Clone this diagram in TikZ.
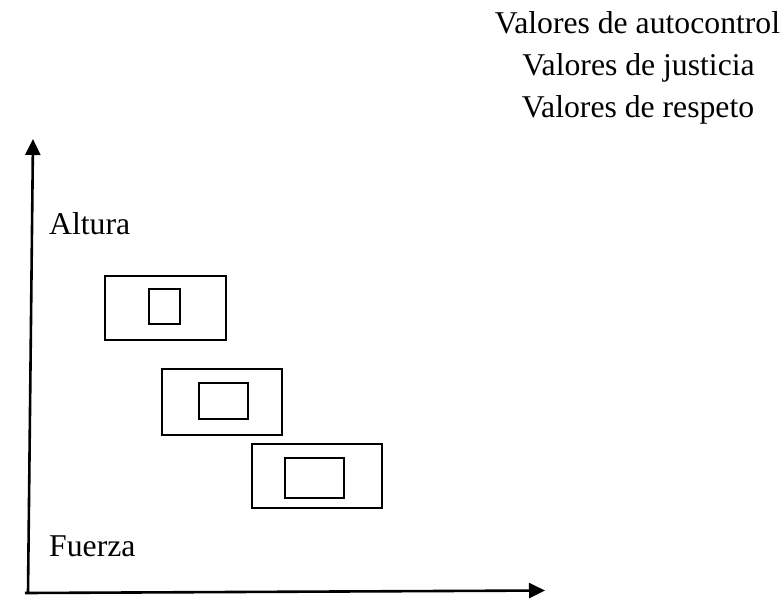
\documentclass[tikz,border=0pt]{standalone}
\usepackage{fontspec}
\setmainfont{Liberation Serif}
\usetikzlibrary{arrows.meta}
\tikzset{
  frame/.style={draw=black, line width=2pt, inner sep=0pt, anchor=center},
  axis/.style={line width=2.6pt, -{Triangle[length=16pt,width=15pt]}},
  lbl/.style={inner sep=0pt, font=\fontsize{31.7}{34}\selectfont},
}
\begin{document}
\begin{tikzpicture}[x=1pt,y=-1pt]
\useasboundingbox (0,0) rectangle (784,598);
% texts
\node[lbl, anchor=base] (t1) at (637.5,33) {Valores de autocontrol};
\node[lbl, anchor=base] (t2) at (638.5,75) {Valores de justicia};
\node[lbl, anchor=base] (t3) at (638,117) {Valores de respeto};
\node[lbl, anchor=base west] (alt) at (49,234) {Altura};
\node[lbl, anchor=base west] (fue) at (49,556) {Fuerza};
% axes
\coordinate (o) at (28,593);
\coordinate (ob) at (25,593);
\coordinate (ytop) at (33,139);
\coordinate (xend) at (545,590.5);
\draw[axis] (o) -- (ytop);
\draw[axis] (ob) -- (xend);
% boxes
\node[frame, minimum width=121pt, minimum height=64pt] (b1) at (165.5,308) {};
\node[frame, minimum width=31pt, minimum height=35pt] (i1) at (164.5,306.5) {};
\node[frame, minimum width=120pt, minimum height=66pt] (b2) at (222,402) {};
\node[frame, minimum width=49pt, minimum height=36pt] (i2) at (223.5,401) {};
\node[frame, minimum width=130pt, minimum height=64pt] (b3) at (317,476) {};
\node[frame, minimum width=59pt, minimum height=40pt] (i3) at (314.5,478) {};
\end{tikzpicture}
\end{document}
